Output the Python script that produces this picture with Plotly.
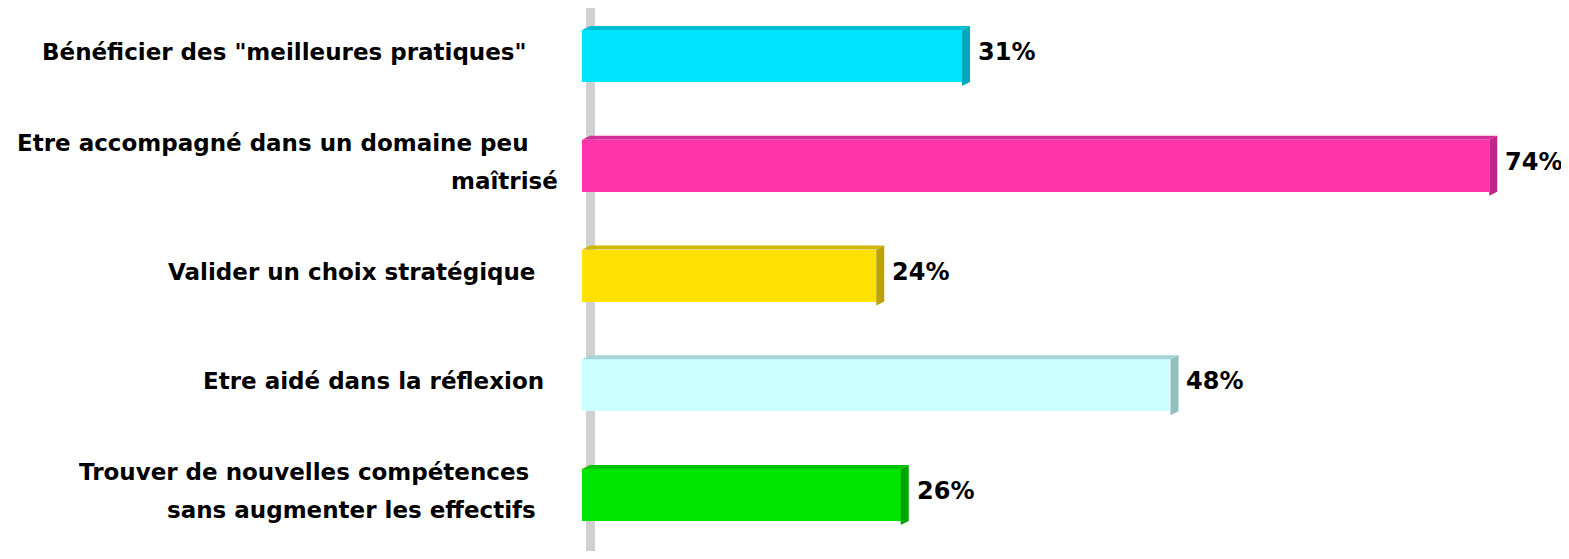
import plotly.graph_objects as go

# ---------------- data ----------------
categories = [
    ['Bénéficier des "meilleures pratiques"'],
    ['Etre accompagné dans un domaine peu', 'maîtrisé'],
    ['Valider un choix stratégique'],
    ['Etre aidé dans la réflexion'],
    ['Trouver de nouvelles compétences', 'sans augmenter les effectifs'],
]
values = [31, 74, 24, 48, 26]
value_labels = ["31%", "74%", "24%", "48%", "26%"]

# ---------------- style ----------------
front_colors = ["#00E5FF", "#FF33AA", "#FFE100", "#CCFFFF", "#00E600"]
top_colors = ["#00BCD2", "#D42E98", "#D2B800", "#A6D6D6", "#00C400"]
side_colors = ["#00A8BA", "#C0258A", "#BCA400", "#92BEBE", "#00A600"]

OFF = 8                       # page body margin in the browser
label_right_px = [[529], [531, 560], [537], [546], [531, 538]]   # screen px

W, H = 1569 - 2 * OFF, 559 - 2 * OFF
X0 = 582 - OFF      # figure pixel of value 0
PXU = 12.26         # pixels per unit
Y0 = 56 - OFF       # figure pixel centre of first bar
PITCH = 109.75      # pixels between bars
BAR_PX = 52
DX, DY = 8, 4       # 3D depth offset in px

xmax = (W - X0) / PXU
ytop = -Y0 / PITCH
ybot = (H - Y0) / PITCH


def dx(p):
    return p / PXU


def dy(p):
    return p / PITCH


idx = list(range(len(values)))
bw = BAR_PX / PITCH

fig = go.Figure()
fig.add_trace(go.Bar(
    x=values, y=idx, orientation="h", width=bw,
    marker=dict(color=front_colors, line=dict(width=0)),
    hoverinfo="skip",
))

shapes = []
# gray wall (axis)
wl, wr = dx(4), dx(13)
shapes.append(dict(
    type="path", xref="x", yref="y", layer="below",
    path=(f"M{wl},{ybot + 1} L{wl},{dy(6 - OFF - Y0)} "
          f"L{wr},{dy(3 - OFF - Y0)} L{wr},{ybot + 1} Z"),
    fillcolor="#D0D0D0", line=dict(width=0),
))

for i, v in enumerate(values):
    yt = i - bw / 2
    yb = i + bw / 2
    # top face
    shapes.append(dict(
        type="path", xref="x", yref="y",
        path=(f"M0,{yt} L{v},{yt} L{v + dx(DX)},{yt - dy(DY)} "
              f"L{dx(DX)},{yt - dy(DY)} Z"),
        fillcolor=top_colors[i], line=dict(width=0),
    ))
    # side face
    shapes.append(dict(
        type="path", xref="x", yref="y",
        path=(f"M{v},{yt} L{v + dx(DX)},{yt - dy(DY)} "
              f"L{v + dx(DX)},{yb} L{v},{yb + dy(DY)} Z"),
        fillcolor=side_colors[i], line=dict(width=0),
    ))

FONT = "DejaVu Sans"
annotations = []
for i, (v, lab) in enumerate(zip(values, value_labels)):
    annotations.append(dict(
        x=v, y=i, xref="x", yref="y", text=lab, showarrow=False,
        xanchor="left", yanchor="middle", xshift=DX + 6, yshift=4,
        font=dict(family=FONT, size=24, color="black", weight="bold"),
    ))

LINE_PITCH = 38
for i, lines in enumerate(categories):
    n = len(lines)
    for k, line in enumerate(lines):
        off = (k - (n - 1) / 2) * LINE_PITCH
        annotations.append(dict(
            x=0, y=i, xref="x", yref="y", text=line, showarrow=False,
            xanchor="right", yanchor="middle",
            xshift=label_right_px[i][k] - OFF - X0, yshift=4 - off,
            font=dict(family=FONT, size=23, color="black", weight="bold"),
        ))

fig.update_layout(
    width=W, height=H,
    margin=dict(l=X0, r=0, t=0, b=0, pad=0),
    paper_bgcolor="white", plot_bgcolor="white",
    showlegend=False,
    xaxis=dict(range=[0, xmax], visible=False, fixedrange=True),
    yaxis=dict(range=[ybot, ytop], visible=False, fixedrange=True),
    shapes=shapes, annotations=annotations,
    bargap=0,
)

fig.write_html("out.html")
